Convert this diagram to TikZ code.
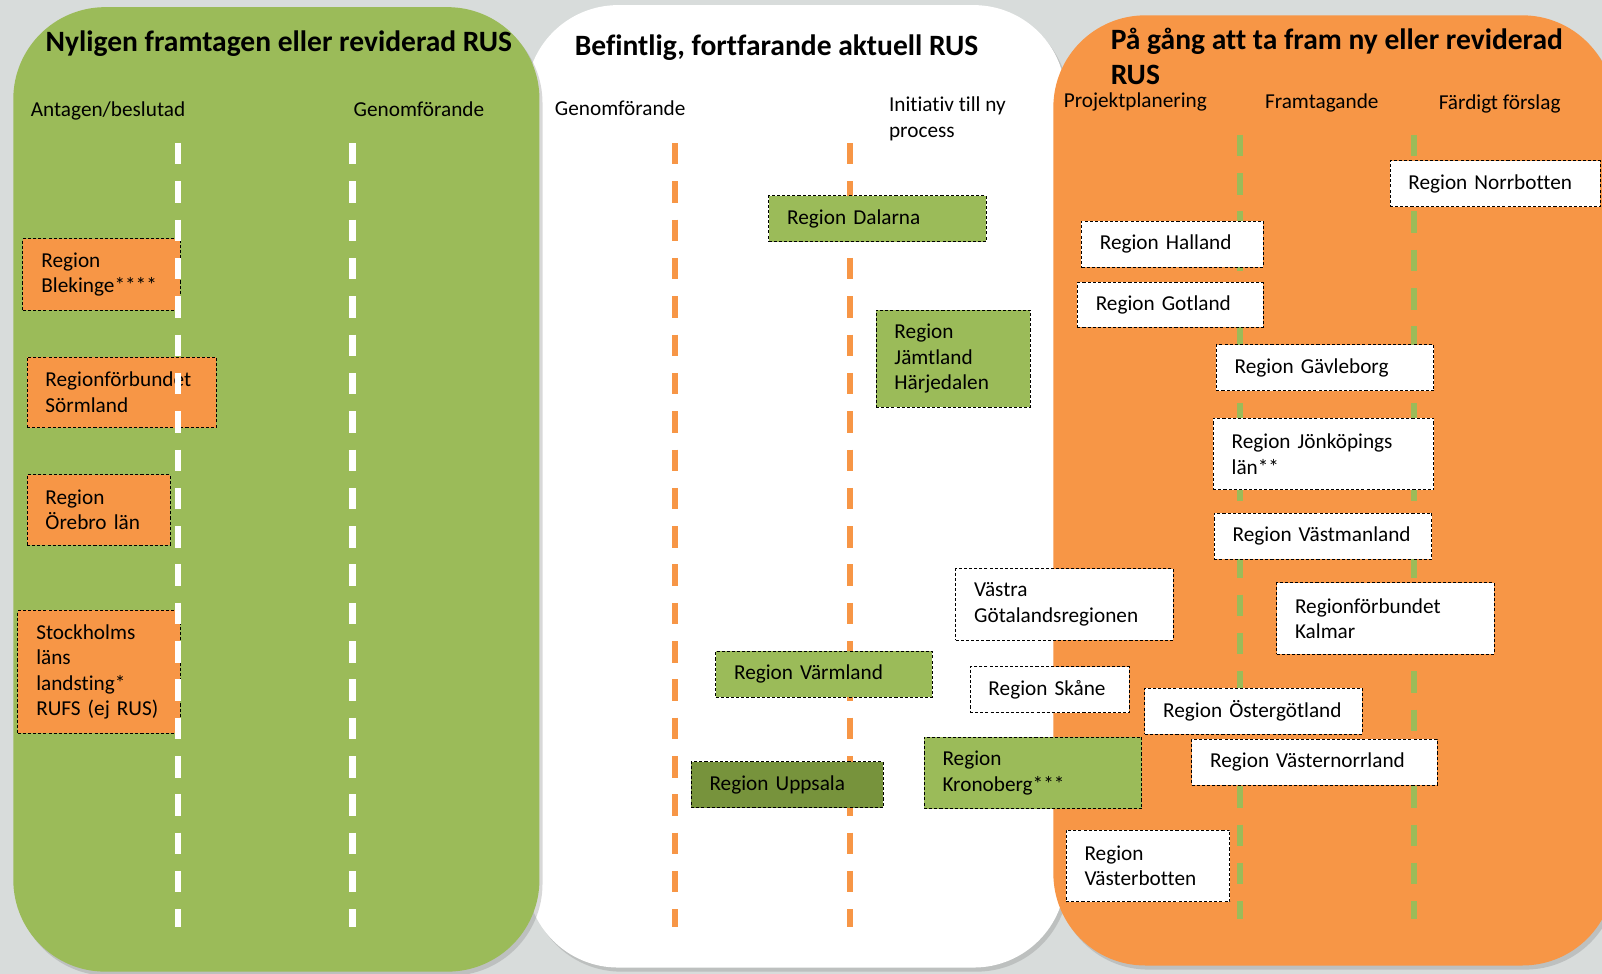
\documentclass[tikz,border=0pt]{standalone}
\usepackage{fontspec}
\setmainfont{Carlito}[Ligatures=NoCommon]
\usetikzlibrary{positioning,shadows}
\definecolor{bggrey}{RGB}{216,220,219}
\definecolor{rusgreen}{RGB}{155,187,89}
\definecolor{rusorange}{RGB}{247,150,70}
\definecolor{rusdark}{RGB}{119,147,60}
\newcommand{\bodysize}{\fontsize{20.8}{25}\selectfont}
\newcommand{\titlesize}{\fontsize{28.9}{34}\selectfont\bfseries}
\tikzset{
  panel/.style={rounded corners=90pt,drop shadow={opacity=0.3,shadow xshift=3pt,shadow yshift=-4pt}},
  regbox/.style={rectangle,draw=black,line width=1pt,dash pattern=on 3pt off 2pt,anchor=north west,inner xsep=18pt,inner ysep=2pt,align=left,font=\bodysize},
  colhead/.style={anchor=west,inner sep=0pt,align=left,font=\bodysize},
  paneltitle/.style={inner sep=0pt,align=left,font=\titlesize},
  lane/.style={line width=6pt,dash pattern=on 21pt off 16.5pt}
}

\begin{document}
\begin{tikzpicture}[x=1pt,y=-1pt]
\useasboundingbox (0,0) rectangle (1568,953);
\fill[bggrey] (0,0) rectangle (1568,953);

\path[panel,fill=white] (515,5) rectangle (1043,947);
\path[panel,fill=rusgreen] (13,7) rectangle (528,951);
\path[panel,fill=rusorange] (1031,15) rectangle (1580,945);

\node at (273,43)[paneltitle](t1){Nyligen framtagen eller reviderad RUS};
\node at (760,47)[paneltitle](t2){Befintlig, fortfarande aktuell RUS};
\node at (1087,55)[paneltitle,anchor=west](t3){På gång att ta fram ny eller reviderad\\RUS};

\node at (30,109)[colhead](h1){Antagen/beslutad};
\node at (346,107)[colhead](h2){Genomförande};
\node at (543,106)[colhead](h3){Genomförande};
\node at (870,116.5)[colhead](h4){Initiativ till ny\\process};
\node at (1041,100)[colhead](h5){Projektplanering};
\node at (1238,101)[colhead](h6){Framtagande};
\node at (1408,102)[colhead](h7){Färdigt förslag};

\coordinate (gent) at (661,140);
\coordinate (genb) at (661,907);
\coordinate (init) at (832,140);
\coordinate (inib) at (832,907);
\coordinate (prot) at (1214,132);
\coordinate (prob) at (1214,899);
\coordinate (fart) at (1384,132);
\coordinate (farb) at (1384,899);
\draw[lane,rusorange] (gent) -- (genb);
\draw[lane,rusorange] (init) -- (inib);
\draw[lane,rusgreen] (prot) -- (prob);
\draw[lane,rusgreen] (fart) -- (farb);

\node at (22,233)[regbox,fill=rusorange,text width=118pt,minimum height=70pt](blek){Region\\Blekinge****};
\node at (26,349)[regbox,fill=rusorange,text width=149pt,minimum height=69pt](sorm){Regionförbundet\\Sörmland};
\node at (26,464)[regbox,fill=rusorange,text width=104pt,minimum height=69pt](oreb){Region\\Örebro län};
\node at (17,597)[regbox,fill=rusorange,text width=123pt,minimum height=120pt](stho){Stockholms\\läns\\landsting*\\RUFS (ej RUS)};

\node at (752,191)[regbox,fill=rusgreen,text width=177pt,minimum height=45pt](dala){Region Dalarna};
\node at (857,303)[regbox,fill=rusgreen,text width=115pt,minimum height=95pt](jamt){Region\\Jämtland\\Härjedalen};
\node at (700,637)[regbox,fill=rusgreen,text width=176pt,minimum height=45pt](varm){Region Värmland};
\node at (676,745)[regbox,fill=rusdark,text width=152pt,minimum height=45pt](upps){Region Uppsala};
\node at (904,721)[regbox,fill=rusgreen,text width=177pt,minimum height=70pt](kron){Region\\Kronoberg***};
\node at (935,556)[regbox,fill=white,text width=177pt,minimum height=70pt](vgot){Västra\\Götalandsregionen};
\node at (949,652)[regbox,fill=white,text width=120pt,minimum height=45pt](skan){Region Skåne};

\node at (1058,216)[regbox,fill=white,text width=142pt,minimum height=45pt](hall){Region Halland};
\node at (1054,276)[regbox,fill=white,text width=146pt,minimum height=44pt](gotl){Region Gotland};
\node at (1360,157)[regbox,fill=white,text width=170pt,minimum height=45pt](norr){Region Norrbotten};
\node at (1190,337)[regbox,fill=white,text width=177pt,minimum height=45pt](gavl){Region Gävleborg};
\node at (1187,409)[regbox,fill=white,text width=180pt,minimum height=70pt](jonk){Region Jönköpings\\län**};
\node at (1188,502)[regbox,fill=white,text width=177pt,minimum height=45pt](vast){Region Västmanland};
\node at (1249,570)[regbox,fill=white,text width=177pt,minimum height=70pt](kalm){Regionförbundet\\Kalmar};
\node at (1120,673)[regbox,fill=white,text width=177pt,minimum height=45pt](oste){Region Östergötland};
\node at (1166,723)[regbox,fill=white,text width=204pt,minimum height=45pt](vnor){Region Västernorrland};
\node at (1043,812)[regbox,fill=white,text width=124pt,minimum height=70pt](vbot){Region\\Västerbotten};

\coordinate (antt) at (174,140);
\coordinate (antb) at (174,907);
\coordinate (gnat) at (345,140);
\coordinate (gnab) at (345,907);
\draw[lane,white] (antt) -- (antb);
\draw[lane,white] (gnat) -- (gnab);
\end{tikzpicture}
\end{document}
